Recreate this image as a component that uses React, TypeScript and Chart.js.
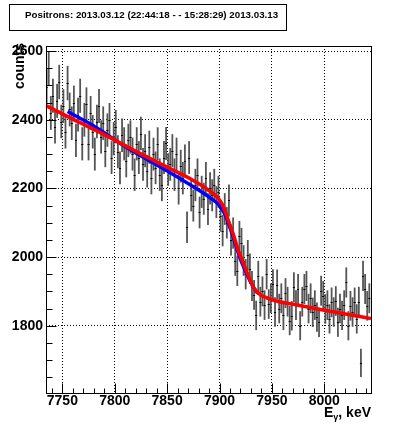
import { useEffect, useRef } from "react";
import { Chart, registerables } from "chart.js";
Chart.register(...registerables);

// Histogram definition: 2 keV bins starting at 7734 keV
const BIN_LOW = 7734;
const BIN_WIDTH = 2;
const COUNTS = [
  2497, 2550, 2420, 2470, 2380, 2455, 2510, 2395, 2440, 2365,
  2507, 2430, 2390, 2450, 2340, 2415, 2470, 2330, 2400, 2445,
  2330, 2420, 2365, 2300, 2395, 2440, 2350, 2390, 2310, 2370,
  2400, 2290, 2345, 2380, 2307, 2260, 2355, 2330, 2280, 2340,
  2350, 2300, 2240, 2330, 2290, 2360, 2270, 2310, 2250, 2320,
  2230, 2300, 2260, 2330, 2240, 2210, 2290, 2331, 2255, 2270,
  2310, 2240, 2300, 2200, 2265, 2230, 2280, 2087, 2290, 2180,
  2150, 2210, 2240, 2130, 2190, 2170, 2230, 2140, 2200, 2180,
  2210, 2160, 2190, 2120, 2077, 2140, 2100, 2165, 2050, 2070,
  1990, 1960, 2060, 2040, 1990, 1950, 2005, 1966, 1916, 1890,
  1830, 1945, 1870, 1900, 1860, 1950, 1863, 1880, 1921, 1840,
  1920, 1850, 1880, 1830, 1895, 1870, 1815, 1829, 1912, 1860,
  1907, 1800, 1870, 1907, 1916, 1850, 1880, 1839, 1860, 1825,
  1810, 1902, 1887, 1849, 1860, 1820, 1868, 1840, 1872, 1810,
  1850, 1830, 1860, 1926, 1800, 1858, 1840, 1868, 1820, 1870,
  1692, 1945, 1907, 1858, 1880,
];

// Fit curves
const RED_X = [7734.4, 7760, 7790, 7824, 7850, 7875, 7889, 7899, 7904, 7908, 7913, 7918, 7923, 7927.5, 7932, 7937, 7943.5, 7953, 7969, 8000, 8044.6];
const RED_Y = [2441, 2402, 2357, 2302, 2262, 2223, 2196, 2170, 2145, 2110, 2068, 2019, 1980, 1946, 1914, 1895, 1883, 1873, 1863, 1845, 1821];
const BLUE_X = [7755, 7780, 7811, 7849, 7875, 7890, 7900, 7905, 7910, 7915, 7920, 7925, 7930, 7935, 7937];
const BLUE_Y = [2424, 2382, 2320, 2253, 2205, 2175, 2150, 2125, 2085, 2040, 1993, 1958, 1925, 1900, 1894];

const X_TICKS = [7750, 7800, 7850, 7900, 7950, 8000];
const Y_TICKS = [1800, 2000, 2200, 2400, 2600];
const X_MINOR_STEP = 10;
const Y_MINOR_STEP = 50;
const X_MIN = 7734.4;
const X_MAX = 8044.6;
const Y_MIN = 1604;
const Y_MAX = 2615;

const TITLE = "Positrons: 2013.03.12 (22:44:18 - - 15:28:29) 2013.03.13";
const Y_TITLE = "counts";
const X_TITLE_MAIN = "E";
const X_TITLE_SUB = "\u03b3";
const X_TITLE_REST = ", keV";

const FONT = '"Liberation Sans", Arial, Helvetica, sans-serif';

const decor = {
  id: "rootDecor",
  beforeDraw(chart: any) {
    const ctx = chart.ctx;
    ctx.save();
    ctx.fillStyle = "#fff";
    ctx.fillRect(0, 0, chart.width, chart.height);
    ctx.restore();
  },
  beforeDatasetsDraw(chart: any) {
    const ctx = chart.ctx;
    const xs = chart.scales.x;
    const ys = chart.scales.y;
    const a = chart.chartArea;
    ctx.save();
    ctx.beginPath();
    ctx.rect(a.left, a.top, a.right - a.left, a.bottom - a.top);
    ctx.clip();
    ctx.lineWidth = 1.8;
    ctx.strokeStyle = "#555";
    COUNTS.forEach((c, i) => {
      const xc = BIN_LOW + BIN_WIDTH * (i + 0.5);
      const e = Math.sqrt(c);
      const px = xs.getPixelForValue(xc);
      ctx.beginPath();
      ctx.moveTo(px, ys.getPixelForValue(c + e));
      ctx.lineTo(px, ys.getPixelForValue(c - e));
      ctx.stroke();
    });
    ctx.lineWidth = 1;
    ctx.strokeStyle = "#000";
    COUNTS.forEach((c, i) => {
      const x0 = BIN_LOW + BIN_WIDTH * i;
      const py = Math.round(ys.getPixelForValue(c)) + 0.5;
      ctx.beginPath();
      ctx.moveTo(xs.getPixelForValue(x0), py);
      ctx.lineTo(xs.getPixelForValue(x0 + BIN_WIDTH), py);
      ctx.stroke();
    });
    ctx.restore();
  },
  afterDatasetsDraw(chart: any) {
    const ctx = chart.ctx;
    const xs = chart.scales.x;
    const ys = chart.scales.y;
    const a = chart.chartArea;
    ctx.save();
    ctx.strokeStyle = "#000";
    ctx.lineWidth = 1;
    const L = Math.floor(a.left) + 0.5;
    const R = Math.floor(a.right) + 0.5;
    const T = Math.floor(a.top) + 0.5;
    const B = Math.floor(a.bottom) + 0.5;
    // frame
    ctx.strokeRect(L, T, R - L, B - T);
    // y ticks
    for (let v = Math.ceil(Y_MIN / Y_MINOR_STEP) * Y_MINOR_STEP; v <= Y_MAX; v += Y_MINOR_STEP) {
      const major = Y_TICKS.includes(v);
      const py = Math.round(ys.getPixelForValue(v)) + 0.5;
      ctx.beginPath();
      ctx.moveTo(L, py);
      ctx.lineTo(L + (major ? 10 : 6), py);
      ctx.stroke();
    }
    // x ticks
    for (let v = Math.ceil(X_MIN / X_MINOR_STEP) * X_MINOR_STEP; v <= X_MAX; v += X_MINOR_STEP) {
      const major = X_TICKS.includes(v);
      const px = Math.round(xs.getPixelForValue(v)) + 0.5;
      ctx.beginPath();
      ctx.moveTo(px, B);
      ctx.lineTo(px, B - (major ? 10 : 5));
      ctx.stroke();
    }
    // title box
    ctx.strokeRect(9.5, 4.5, 277, 26);
    ctx.fillStyle = "#000";
    ctx.font = `bold 9.75px ${FONT}`;
    ctx.textAlign = "left";
    ctx.textBaseline = "middle";
    ctx.fillText(TITLE, 25, 15);
    // y title
    ctx.save();
    ctx.translate(20, 43);
    ctx.rotate(-Math.PI / 2);
    ctx.font = `bold 14px ${FONT}`;
    ctx.textAlign = "right";
    ctx.textBaseline = "middle";
    ctx.fillText(Y_TITLE, 0, 0);
    ctx.restore();
    // x title
    const bigFont = `bold 14px ${FONT}`;
    const smallFont = `bold 9px ${FONT}`;
    ctx.font = bigFont;
    const wMain = ctx.measureText(X_TITLE_MAIN).width;
    const wRest = ctx.measureText(X_TITLE_REST).width;
    ctx.font = smallFont;
    const wSub = ctx.measureText(X_TITLE_SUB).width;
    const total = wMain + wSub + wRest;
    let x = a.right - total;
    const base = 417;
    ctx.textAlign = "left";
    ctx.textBaseline = "alphabetic";
    ctx.font = bigFont;
    ctx.fillText(X_TITLE_MAIN, x, base);
    x += wMain;
    ctx.font = smallFont;
    ctx.fillText(X_TITLE_SUB, x, base + 3);
    x += wSub;
    ctx.font = bigFont;
    ctx.fillText(X_TITLE_REST, x, base);
    ctx.restore();
  },
};

export default function App() {
  const ref = useRef<HTMLCanvasElement>(null);
  useEffect(() => {
    document.body.style.margin = "0";
    const canvas = ref.current!;
    const tickFont = { family: FONT, size: 14, weight: "bold" as const };
    const chart = new Chart(canvas, {
      type: "scatter",
      data: {
        datasets: [
          {
            type: "scatter",
            data: COUNTS.map((c, i) => ({ x: BIN_LOW + BIN_WIDTH * (i + 0.5), y: c })),
            pointRadius: 0,
            order: 3,
          } as any,
          {
            type: "line",
            data: BLUE_X.map((x, i) => ({ x, y: BLUE_Y[i] })),
            borderColor: "#0000ff",
            borderWidth: 3.4,
            pointRadius: 0,
            cubicInterpolationMode: "monotone",
            fill: false,
            order: 2,
          } as any,
          {
            type: "line",
            data: RED_X.map((x, i) => ({ x, y: RED_Y[i] })),
            borderColor: "#ff0000",
            borderWidth: 3.6,
            pointRadius: 0,
            cubicInterpolationMode: "monotone",
            fill: false,
            order: 1,
          } as any,
        ],
      },
      options: {
        animation: false,
        responsive: false,
        maintainAspectRatio: false,
        events: [],
        layout: { padding: { left: 0, top: 46, right: 23, bottom: 0 } },
        plugins: { legend: { display: false }, tooltip: { enabled: false }, title: { display: false } },
        scales: {
          x: {
            type: "linear",
            min: X_MIN,
            max: X_MAX,
            afterBuildTicks: (s: any) => {
              s.ticks = X_TICKS.map((v) => ({ value: v }));
            },
            afterFit: (s: any) => {
              s.height = 41;
            },
            ticks: {
              font: tickFont,
              color: "#000",
              padding: 0,
              maxRotation: 0,
              autoSkip: false,
              callback: (v: any) => String(v),
            },
            grid: { color: "#000", lineWidth: 1, drawTicks: false },
            border: { display: false, dash: [1, 2] },
          },
          y: {
            type: "linear",
            min: Y_MIN,
            max: Y_MAX,
            afterBuildTicks: (s: any) => {
              s.ticks = Y_TICKS.map((v) => ({ value: v }));
            },
            afterFit: (s: any) => {
              s.width = 46;
            },
            ticks: { font: tickFont, color: "#000", padding: 3, autoSkip: false, callback: (v: any) => String(v) },
            grid: { color: "#000", lineWidth: 1, drawTicks: false },
            border: { display: false, dash: [1, 2] },
          },
        },
      },
      plugins: [decor],
    } as any);
    return () => chart.destroy();
  }, []);
  return (
    <div style={{ width: 394, height: 434 }}>
      <canvas ref={ref} width={394} height={434} style={{ width: 394, height: 434, display: "block" }} />
    </div>
  );
}
